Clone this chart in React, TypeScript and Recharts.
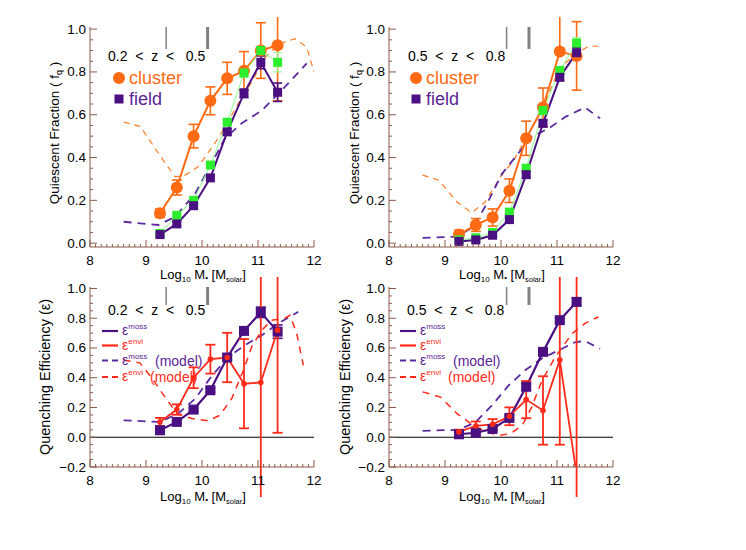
import React from "react";
import { ComposedChart, Line, XAxis, YAxis, ErrorBar, ReferenceLine } from "recharts";

const FONT = "'Liberation Sans', Arial, Helvetica, sans-serif";
const AXIS = "#8b5a48";
const ORANGE = "#ff6a12";
const ORANGE_DASH = "#ff7a22";
const PURPLE = "#4a0f80";
const PURPLE_DASH = "#5a2a9e";
const PURPLE_TXT = "#5b2596";
const GREEN = "#2cee2c";
const GREEN_LINE = "#8cff8c";
const RED = "#ff2a1a";

// stellar mass bins (log10 M*)
const MASS = [9.25, 9.55, 9.85, 10.15, 10.45, 10.75, 11.05, 11.35];
const X_MAJOR = [8, 9, 10, 11, 12];
const MASS_LIMITS_LO = [9.36, 10.1];
const MASS_LIMITS_HI = [10.1, 10.5];

// quiescent fraction, 0.2 < z < 0.5
const CLUSTER_LO = [0.14, 0.26, 0.5, 0.665, 0.77, 0.805, 0.9, 0.925];
const CLUSTER_LO_ERR = [0.02, 0.035, 0.055, 0.065, 0.075, 0.09, 0.13, 0.26];
const FIELD_LO = [0.04, 0.09, 0.175, 0.305, 0.52, 0.7, 0.845, 0.705];
const FIELD_LO_ERR = [0.01, 0.01, 0.012, 0.012, 0.015, 0.02, 0.03, 0.043];
const GREEN_LO = [0.045, 0.13, 0.2, 0.365, 0.565, 0.795, 0.9, 0.845];
const GREEN_LO_ERR = [0.01, 0.01, 0.01, 0.012, 0.015, 0.02, 0.02, 0.045];
const MODEL_CL_LO_X = [8.6, 8.9, 9.3, 9.52, 9.7, 9.93, 10.23, 10.41, 10.65, 10.89, 11.1, 11.36, 11.66, 11.87, 12.0];
const MODEL_CL_LO_Y = [0.566, 0.545, 0.39, 0.31, 0.318, 0.357, 0.467, 0.543, 0.653, 0.754, 0.86, 0.93, 0.955, 0.916, 0.8];
const MODEL_FI_LO_X = [8.6, 9.22, 9.52, 9.88, 10.17, 10.41, 10.71, 11.07, 11.48, 11.87];
const MODEL_FI_LO_Y = [0.1, 0.085, 0.123, 0.232, 0.372, 0.49, 0.56, 0.62, 0.73, 0.84];

// quiescent fraction, 0.5 < z < 0.8
const CLUSTER_HI = [0.04, 0.085, 0.12, 0.245, 0.49, 0.635, 0.895, 0.875];
const CLUSTER_HI_ERR: (number | number[])[] = [0.02, 0.03, 0.04, 0.055, 0.08, 0.09, [0.005, 0.2], 0.16];
const FIELD_HI = [0.008, 0.015, 0.037, 0.11, 0.32, 0.56, 0.775, 0.89];
const FIELD_HI_ERR = [0.008, 0.008, 0.01, 0.01, 0.015, 0.015, 0.015, 0.025];
const GREEN_HI = [0.015, 0.025, 0.05, 0.145, 0.35, 0.62, 0.807, 0.935];
const GREEN_HI_ERR = [0.008, 0.008, 0.01, 0.01, 0.015, 0.015, 0.015, 0.025];
const MODEL_CL_HI_X = [8.6, 8.89, 9.21, 9.48, 9.72, 9.99, 10.23, 10.49, 10.73, 11.03, 11.33, 11.57, 11.83];
const MODEL_CL_HI_Y = [0.318, 0.294, 0.193, 0.142, 0.193, 0.31, 0.388, 0.512, 0.62, 0.81, 0.886, 0.92, 0.92];
const MODEL_FI_HI_X = [8.6, 9.21, 9.51, 9.78, 10.02, 10.31, 10.55, 10.85, 11.15, 11.5, 11.77];
const MODEL_FI_HI_Y = [0.025, 0.03, 0.076, 0.2, 0.325, 0.42, 0.497, 0.536, 0.59, 0.634, 0.583];

// quenching efficiency, 0.2 < z < 0.5
const MOSS_LO = [0.047, 0.103, 0.186, 0.316, 0.536, 0.715, 0.84, 0.71];
const MOSS_LO_ERR = [0.01, 0.01, 0.01, 0.012, 0.015, 0.02, 0.035, 0.045];
const ENVI_LO = [0.103, 0.186, 0.4, 0.525, 0.536, 0.36, 0.368, 0.72];
const ENVI_LO_ERR = [0.027, 0.035, 0.07, 0.097, 0.166, 0.3, 1.2, 0.69];
const MODEL_MOSS_LO_X = [8.6, 9.25, 9.58, 9.88, 10.17, 10.47, 10.77, 11.07, 11.36, 11.72];
const MODEL_MOSS_LO_Y = [0.114, 0.103, 0.16, 0.26, 0.41, 0.54, 0.62, 0.686, 0.765, 0.843];
const MODEL_ENVI_LO_X = [8.6, 8.89, 9.1, 9.34, 9.55, 9.82, 10.11, 10.32, 10.53, 10.74, 10.89, 11.07, 11.24, 11.48, 11.57, 11.69, 11.81];
const MODEL_ENVI_LO_Y = [0.52, 0.5, 0.4, 0.27, 0.16, 0.126, 0.11, 0.148, 0.26, 0.45, 0.61, 0.72, 0.787, 0.8, 0.82, 0.7, 0.484];

// quenching efficiency, 0.5 < z < 0.8
const MOSS_HI = [0.02, 0.03, 0.056, 0.13, 0.339, 0.574, 0.787, 0.91];
const MOSS_HI_ERR = [0.01, 0.01, 0.01, 0.015, 0.02, 0.015, 0.015, 0.025];
const ENVI_HI = [0.036, 0.076, 0.087, 0.141, 0.253, 0.18, 0.52, -0.25];
const ENVI_HI_ERR = [0.015, 0.03, 0.035, 0.06, 0.125, 0.23, 0.57, 1.4];
const MODEL_MOSS_HI_X = [8.6, 9.24, 9.54, 9.84, 10.14, 10.43, 10.73, 11.03, 11.33, 11.5, 11.77];
const MODEL_MOSS_HI_Y = [0.043, 0.05, 0.1, 0.215, 0.35, 0.45, 0.53, 0.585, 0.64, 0.646, 0.596];
const MODEL_ENVI_HI_X = [8.6, 8.92, 9.21, 9.54, 9.84, 9.99, 10.17, 10.38, 10.55, 10.73, 10.97, 11.27, 11.5, 11.74];
const MODEL_ENVI_HI_Y = [0.305, 0.27, 0.16, 0.07, 0.025, 0.013, 0.025, 0.08, 0.204, 0.38, 0.54, 0.697, 0.765, 0.81];

const rows = (ys: number[], errs: any[]) => MASS.map((x, i) => ({ x, y: ys[i], e: errs[i] }));
const curve = (xs: number[], ys: number[]) => xs.map((x, i) => ({ x, y: ys[i] }));

const X_TICKS = Array.from({ length: 41 }, (_, i) => Math.round(80 + i) / 10);
const Y_TICKS_Q = Array.from({ length: 21 }, (_, i) => (i * 5) / 100);
const Y_TICKS_E = Array.from({ length: 25 }, (_, i) => (i * 5 - 20) / 100);

const isMajorX = (v: number) => X_MAJOR.some((m) => Math.abs(m - v) < 1e-6);
const isMajorY = (v: number) => Math.abs(v * 5 - Math.round(v * 5)) < 1e-6;
const fmtY = (v: number) => (v < 0 ? "\u2212" + Math.abs(v).toFixed(1) : v.toFixed(1));

const BottomTick = (p: any) => {
  const v = p.payload.value;
  const major = isMajorX(v);
  return (
    <g>
      <line x1={p.x} x2={p.x} y1={p.y} y2={p.y - (major ? 7 : 3)} stroke={AXIS} />
      {major && (
        <text x={p.x} y={p.y + 18} textAnchor="middle" fontSize={13.5} fontFamily={FONT} fill="#000">
          {v}
        </text>
      )}
    </g>
  );
};
const TopTick = (p: any) => {
  const major = isMajorX(p.payload.value);
  return <line x1={p.x} x2={p.x} y1={p.y} y2={p.y + (major ? 7 : 3)} stroke={AXIS} />;
};
const LeftTick = (p: any) => {
  const v = p.payload.value;
  const major = isMajorY(v);
  return (
    <g>
      <line x1={p.x} x2={p.x + (major ? 7 : 3)} y1={p.y} y2={p.y} stroke={AXIS} />
      {major && (
        <text x={p.x - 4} y={p.y + 4.5} textAnchor="end" fontSize={13.5} fontFamily={FONT} fill="#000">
          {fmtY(v)}
        </text>
      )}
    </g>
  );
};
const RightTick = (p: any) => {
  const major = isMajorY(p.payload.value);
  return <line x1={p.x} x2={p.x - (major ? 7 : 3)} y1={p.y} y2={p.y} stroke={AXIS} />;
};

const circleDot = (r: number, fill: string) => (p: any) =>
  p.cx == null ? <g key={p.index} /> : <circle key={p.index} cx={p.cx} cy={p.cy} r={r} fill={fill} />;
const squareDot = (s: number, fill: string) => (p: any) =>
  p.cx == null ? <g key={p.index} /> : (
    <rect key={p.index} x={p.cx - s / 2} y={p.cy - s / 2} width={s} height={s} fill={fill} />
  );

const ML = 40;
const MT = 10;
const MR = 10;
const MB = 30;
const PLOT_W = 224;

function Panel({ left, top, height, domain, yTicks, limits, children }: any) {
  return (
    <div style={{ position: "absolute", left: left - ML, top: top - MT }}>
      <ComposedChart
        width={ML + PLOT_W + MR}
        height={MT + height + MB}
        margin={{ top: MT, right: MR, bottom: 0, left: 0 }}
      >
        <XAxis
          xAxisId="b"
          dataKey="x"
          type="number"
          domain={[8, 12]}
          allowDataOverflow
          ticks={X_TICKS}
          interval={0}
          height={MB}
          tickSize={0}
          tickMargin={0}
          tickLine={false}
          tick={BottomTick}
          axisLine={{ stroke: AXIS }}
        />
        <XAxis
          xAxisId="t"
          orientation="top"
          dataKey="x"
          type="number"
          domain={[8, 12]}
          allowDataOverflow
          ticks={X_TICKS}
          interval={0}
          height={0}
          tickSize={0}
          tickMargin={0}
          tickLine={false}
          tick={TopTick}
          axisLine={{ stroke: AXIS }}
        />
        <YAxis
          yAxisId="l"
          type="number"
          domain={domain}
          allowDataOverflow
          ticks={yTicks}
          interval={0}
          width={ML}
          tickSize={0}
          tickMargin={0}
          tickLine={false}
          tick={LeftTick}
          axisLine={{ stroke: AXIS }}
        />
        <YAxis
          yAxisId="r"
          orientation="right"
          type="number"
          domain={domain}
          allowDataOverflow
          ticks={yTicks}
          interval={0}
          width={0}
          tickSize={0}
          tickMargin={0}
          tickLine={false}
          tick={RightTick}
          axisLine={{ stroke: AXIS }}
        />
        {limits.map((m: number, i: number) => (
          <ReferenceLine
            key={"lim" + i}
            xAxisId="b"
            yAxisId="l"
            segment={[
              { x: m, y: domain[1] },
              { x: m, y: domain[1] - (domain[1] - domain[0]) * 0.1 },
            ]}
            stroke="#808080"
            strokeWidth={i === 0 ? 1.5 : 3}
          />
        ))}
        {children}
      </ComposedChart>
    </div>
  );
}

const common = { xAxisId: "b", yAxisId: "l", dataKey: "y", isAnimationActive: false, activeDot: false } as const;

function FractionSeries({ model_cl, model_fi, cluster, green, field }: any) {
  return [
    <Line key="mc" {...common} data={model_cl} stroke={ORANGE_DASH} strokeWidth={1.2} strokeDasharray="6 5" dot={false} />,
    <Line key="mf" {...common} data={model_fi} stroke={PURPLE_DASH} strokeWidth={1.8} strokeDasharray="8 6" dot={false} />,
    <Line key="cl" {...common} data={cluster} stroke={ORANGE} strokeWidth={2} dot={circleDot(6, ORANGE)}>
      <ErrorBar dataKey="e" direction="y" width={5} stroke={ORANGE} strokeWidth={1.6} />
    </Line>,
    <Line key="gr" {...common} data={green} stroke={GREEN_LINE} strokeWidth={1} dot={squareDot(9, GREEN)}>
      <ErrorBar dataKey="e" direction="y" width={4.5} stroke={GREEN_LINE} strokeWidth={1} />
    </Line>,
    <Line key="fi" {...common} data={field} stroke={PURPLE} strokeWidth={2} dot={squareDot(9, PURPLE)}>
      <ErrorBar dataKey="e" direction="y" width={4.5} stroke={PURPLE} strokeWidth={1.6} />
    </Line>,
  ];
}

function EfficiencySeries({ model_moss, model_envi, moss, envi }: any) {
  return [
    <ReferenceLine key="zero" xAxisId="b" yAxisId="l" y={0} stroke="#000" strokeWidth={1.2} />,
    <Line key="mm" {...common} data={model_moss} stroke={PURPLE_DASH} strokeWidth={1.8} strokeDasharray="8 6" dot={false} />,
    <Line key="me" {...common} data={model_envi} stroke={RED} strokeWidth={1.5} strokeDasharray="7 6" dot={false} />,
    <Line key="mo" {...common} data={moss} stroke={PURPLE} strokeWidth={2.2} dot={squareDot(10, PURPLE)}>
      <ErrorBar dataKey="e" direction="y" width={5} stroke={PURPLE} strokeWidth={1.6} />
    </Line>,
    <Line key="en" {...common} data={envi} stroke={RED} strokeWidth={1.8} dot={circleDot(2.8, RED)}>
      <ErrorBar dataKey="e" direction="y" width={5} stroke={RED} strokeWidth={1.8} />
    </Line>,
  ];
}

const XLabel = ({ x, y }: { x: number; y: number }) => (
  <text x={x} y={y} textAnchor="middle" fontSize={13} fontFamily={FONT} fill="#000">
    Log<tspan fontSize={8} dy={3}>10</tspan>
    <tspan dy={-3}> M</tspan>
    <tspan fontSize={8} dy={1}>{"\u2022"}</tspan>
    <tspan dy={-1}> [M</tspan>
    <tspan fontSize={7.5} dy={3}>solar</tspan>
    <tspan dy={-3}>]</tspan>
  </text>
);

const QLabel = ({ x, y }: { x: number; y: number }) => (
  <text x={x} y={y} transform={`rotate(-90 ${x} ${y})`} textAnchor="middle" fontSize={13.5} fontFamily={FONT} fill="#000" style={{ whiteSpace: "pre" }}>
    Quiescent Fraction ( f<tspan fontSize={9} dy={3}>q</tspan>
    <tspan dy={-3}> )</tspan>
  </text>
);

const ELabel = ({ x, y }: { x: number; y: number }) => (
  <text x={x} y={y} transform={`rotate(-90 ${x} ${y})`} textAnchor="middle" fontSize={14.5} fontFamily={FONT} fill="#000">
    Quenching Efficiency ({"\u03b5"})
  </text>
);

const ZText = ({ x, y, label }: { x: number; y: number; label: string }) => (
  <text x={x} y={y} fontSize={14} fontFamily={FONT} fill="#000" style={{ whiteSpace: "pre" }}>
    {label}
  </text>
);

const FracLegend = ({ x, y }: { x: number; y: number }) => (
  <g>
    <circle cx={x} cy={y} r={6} fill={ORANGE} />
    <text x={x + 10} y={y + 6} fontSize={18} fontFamily={FONT} fill={ORANGE}>cluster</text>
    <rect x={x - 4.5} y={y + 16.5} width={9} height={9} fill={PURPLE} />
    <text x={x + 10} y={y + 27} fontSize={18} fontFamily={FONT} fill={PURPLE_TXT}>field</text>
  </g>
);

const EffLegend = ({ x, y, shift }: { x: number; y: number; shift: number }) => {
  const items = [
    { sup: "moss", color: PURPLE, txt: PURPLE_TXT, dash: undefined, model: false },
    { sup: "envi", color: RED, txt: RED, dash: undefined, model: false },
    { sup: "moss", color: PURPLE_DASH, txt: PURPLE_TXT, dash: "6 4", model: true },
    { sup: "envi", color: RED, txt: RED, dash: "6 4", model: true },
  ];
  const dys = [0, 14.5, 29.5, 46];
  return (
    <g>
      {items.map((it, i) => (
        <g key={i}>
          <line x1={x} x2={x + 16} y1={y + dys[i]} y2={y + dys[i]} stroke={it.color} strokeWidth={2.2} strokeDasharray={it.dash} />
          <text x={x + 20} y={y + dys[i] + 4} fontSize={14} fontFamily={FONT} fill={it.txt}>
            {"\u03b5"}
            <tspan fontSize={8} dy={-6}>{it.sup}</tspan>
          </text>
          {it.model && (
            <text x={x + shift + (i === 3 ? -5 : 0)} y={y + dys[i] + 5} fontSize={14} fontFamily={FONT} fill={it.txt}>
              (model)
            </text>
          )}
        </g>
      ))}
    </g>
  );
};

export default function App() {
  return (
    <div style={{ position: "absolute", left: 0, top: 0, width: 746, height: 550, background: "#fff", overflow: "hidden" }}>
      <Panel left={90} top={27} height={220} domain={[-0.018, 1.01]} yTicks={Y_TICKS_Q} limits={MASS_LIMITS_LO}>
        {FractionSeries({
          model_cl: curve(MODEL_CL_LO_X, MODEL_CL_LO_Y),
          model_fi: curve(MODEL_FI_LO_X, MODEL_FI_LO_Y),
          cluster: rows(CLUSTER_LO, CLUSTER_LO_ERR),
          green: rows(GREEN_LO, GREEN_LO_ERR),
          field: rows(FIELD_LO, FIELD_LO_ERR),
        })}
      </Panel>
      <Panel left={389} top={27} height={220} domain={[-0.018, 1.01]} yTicks={Y_TICKS_Q} limits={MASS_LIMITS_HI}>
        {FractionSeries({
          model_cl: curve(MODEL_CL_HI_X, MODEL_CL_HI_Y),
          model_fi: curve(MODEL_FI_HI_X, MODEL_FI_HI_Y),
          cluster: rows(CLUSTER_HI, CLUSTER_HI_ERR),
          green: rows(GREEN_HI, GREEN_HI_ERR),
          field: rows(FIELD_HI, FIELD_HI_ERR),
        })}
      </Panel>
      <Panel left={90} top={287} height={180} domain={[-0.2, 1.01]} yTicks={Y_TICKS_E} limits={MASS_LIMITS_LO}>
        {EfficiencySeries({
          model_moss: curve(MODEL_MOSS_LO_X, MODEL_MOSS_LO_Y),
          model_envi: curve(MODEL_ENVI_LO_X, MODEL_ENVI_LO_Y),
          moss: rows(MOSS_LO, MOSS_LO_ERR),
          envi: rows(ENVI_LO, ENVI_LO_ERR),
        })}
      </Panel>
      <Panel left={389} top={287} height={180} domain={[-0.2, 1.01]} yTicks={Y_TICKS_E} limits={MASS_LIMITS_HI}>
        {EfficiencySeries({
          model_moss: curve(MODEL_MOSS_HI_X, MODEL_MOSS_HI_Y),
          model_envi: curve(MODEL_ENVI_HI_X, MODEL_ENVI_HI_Y),
          moss: rows(MOSS_HI, MOSS_HI_ERR),
          envi: rows(ENVI_HI, ENVI_HI_ERR),
        })}
      </Panel>
      <svg width={746} height={550} style={{ position: "absolute", left: 0, top: 0, pointerEvents: "none" }}>
        <ZText x={108} y={61} label={"0.2  <  z  <   0.5"} />
        <ZText x={408} y={61} label={"0.5  <  z  <   0.8"} />
        <ZText x={108} y={315} label={"0.2  <  z  <   0.5"} />
        <ZText x={407} y={315} label={"0.5  <  z  <   0.8"} />
        <FracLegend x={119} y={78} />
        <FracLegend x={416} y={78} />
        <EffLegend x={102} y={331} shift={53} />
        <EffLegend x={400} y={331} shift={53} />
        <QLabel x={59} y={133} />
        <QLabel x={359} y={133} />
        <ELabel x={50} y={377} />
        <ELabel x={350} y={377} />
        <XLabel x={203} y={279} />
        <XLabel x={502} y={279} />
        <XLabel x={203} y={501} />
        <XLabel x={502} y={501} />
      </svg>
    </div>
  );
}
